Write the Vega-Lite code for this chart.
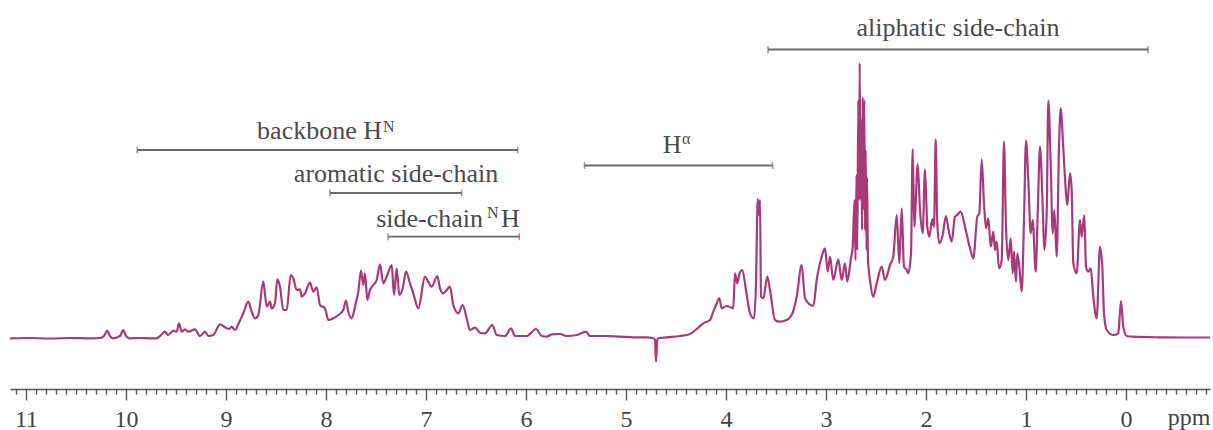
{
  "$schema": "https://vega.github.io/schema/vega-lite/v6.json",
  "autosize": "none",
  "width": 1200,
  "height": 389,
  "padding": {"left": 10, "top": 0, "right": 3, "bottom": 41},
  "background": "white",
  "config": {"view": {"stroke": null}, "font": "Liberation Serif"},
  "datasets": {
    "spectrum": [
      {"ppm":11.16,"intensity":-0.3},{"ppm":10.96,"intensity":0},{"ppm":10.76,"intensity":-0.5},{"ppm":10.56,"intensity":0},{"ppm":10.36,"intensity":-0.3},{"ppm":10.26,"intensity":0},{"ppm":10.22,"intensity":2},{"ppm":10.187,"intensity":7.3},{"ppm":10.16,"intensity":2},{"ppm":10.13,"intensity":-0.3},{"ppm":10.06,"intensity":2},{"ppm":10.027,"intensity":8},{"ppm":10.0,"intensity":2},{"ppm":9.96,"intensity":-0.3},{"ppm":9.86,"intensity":0},{"ppm":9.76,"intensity":-0.3},{"ppm":9.693,"intensity":-0.3},{"ppm":9.66,"intensity":2},{"ppm":9.61,"intensity":6.3},{"ppm":9.58,"intensity":3},{"ppm":9.527,"intensity":7.3},{"ppm":9.493,"intensity":6.3},{"ppm":9.47,"intensity":14.7},{"ppm":9.443,"intensity":6.3},{"ppm":9.41,"intensity":8.7},{"ppm":9.377,"intensity":6.3},{"ppm":9.31,"intensity":8.7},{"ppm":9.26,"intensity":2},{"ppm":9.21,"intensity":6.3},{"ppm":9.177,"intensity":2},{"ppm":9.127,"intensity":3},{"ppm":9.06,"intensity":13.7},{"ppm":9.01,"intensity":10.7},{"ppm":8.97,"intensity":9},{"ppm":8.943,"intensity":11.3},{"ppm":8.91,"intensity":8},{"ppm":8.87,"intensity":15.3},{"ppm":8.827,"intensity":24.7},{"ppm":8.777,"intensity":36.3},{"ppm":8.743,"intensity":26.3},{"ppm":8.71,"intensity":19.7},{"ppm":8.677,"intensity":23},{"ppm":8.627,"intensity":56.3},{"ppm":8.593,"intensity":31.3},{"ppm":8.56,"intensity":36.3},{"ppm":8.543,"intensity":29.7},{"ppm":8.51,"intensity":34.7},{"ppm":8.487,"intensity":58.7},{"ppm":8.46,"intensity":51.3},{"ppm":8.427,"intensity":28},{"ppm":8.393,"intensity":28},{"ppm":8.353,"intensity":63},{"ppm":8.327,"intensity":59.7},{"ppm":8.293,"intensity":48},{"ppm":8.26,"intensity":48.7},{"ppm":8.243,"intensity":41.3},{"ppm":8.21,"intensity":44.7},{"ppm":8.16,"intensity":55.3},{"ppm":8.127,"intensity":46.3},{"ppm":8.093,"intensity":50.7},{"ppm":8.06,"intensity":33},{"ppm":8.01,"intensity":29.7},{"ppm":7.977,"intensity":18},{"ppm":7.927,"intensity":19.7},{"ppm":7.877,"intensity":23},{"ppm":7.827,"intensity":28},{"ppm":7.8,"intensity":37.3},{"ppm":7.777,"intensity":26.3},{"ppm":7.743,"intensity":19.7},{"ppm":7.71,"intensity":31.3},{"ppm":7.677,"intensity":46.3},{"ppm":7.65,"intensity":67.3},{"ppm":7.627,"intensity":53},{"ppm":7.61,"intensity":64.7},{"ppm":7.587,"intensity":38},{"ppm":7.56,"intensity":48},{"ppm":7.527,"intensity":53},{"ppm":7.493,"intensity":58},{"ppm":7.46,"intensity":73.7},{"ppm":7.427,"intensity":54.7},{"ppm":7.393,"intensity":61.3},{"ppm":7.343,"intensity":73},{"ppm":7.32,"intensity":43},{"ppm":7.293,"intensity":69.7},{"ppm":7.267,"intensity":43},{"ppm":7.233,"intensity":49.7},{"ppm":7.2,"intensity":66.3},{"ppm":7.16,"intensity":54.7},{"ppm":7.127,"intensity":44.7},{"ppm":7.077,"intensity":29.7},{"ppm":7.01,"intensity":61.3},{"ppm":6.977,"intensity":56.3},{"ppm":6.943,"intensity":51.3},{"ppm":6.887,"intensity":62},{"ppm":6.86,"intensity":49.7},{"ppm":6.827,"intensity":44.7},{"ppm":6.793,"intensity":48},{"ppm":6.76,"intensity":51.3},{"ppm":6.727,"intensity":33},{"ppm":6.677,"intensity":24.7},{"ppm":6.633,"intensity":33},{"ppm":6.593,"intensity":19.7},{"ppm":6.56,"intensity":8},{"ppm":6.51,"intensity":10.3},{"ppm":6.46,"intensity":5.3},{"ppm":6.41,"intensity":4.7},{"ppm":6.337,"intensity":13},{"ppm":6.293,"intensity":3},{"ppm":6.21,"intensity":2},{"ppm":6.15,"intensity":9.7},{"ppm":6.11,"intensity":2},{"ppm":5.993,"intensity":2},{"ppm":5.9,"intensity":9},{"ppm":5.843,"intensity":2},{"ppm":5.793,"intensity":1.3},{"ppm":5.743,"intensity":3.7},{"ppm":5.66,"intensity":4},{"ppm":5.593,"intensity":2},{"ppm":5.493,"intensity":3},{"ppm":5.4,"intensity":6.3},{"ppm":5.36,"intensity":2},{"ppm":5.193,"intensity":2},{"ppm":5.06,"intensity":1.3},{"ppm":4.927,"intensity":0.7},{"ppm":4.793,"intensity":0.7},{"ppm":4.727,"intensity":-0.3},{"ppm":4.71,"intensity":-2},{"ppm":4.70,"intensity":-23.7},{"ppm":4.687,"intensity":-2},{"ppm":4.677,"intensity":-0.3},{"ppm":4.593,"intensity":0.7},{"ppm":4.46,"intensity":2},{"ppm":4.36,"intensity":4},{"ppm":4.293,"intensity":9},{"ppm":4.227,"intensity":14.7},{"ppm":4.16,"intensity":18},{"ppm":4.127,"intensity":26.3},{"ppm":4.1,"intensity":33},{"ppm":4.067,"intensity":39.7},{"ppm":4.043,"intensity":29.7},{"ppm":3.993,"intensity":32},{"ppm":3.927,"intensity":29.7},{"ppm":3.91,"intensity":64.7},{"ppm":3.887,"intensity":54.7},{"ppm":3.867,"intensity":64},{"ppm":3.837,"intensity":68},{"ppm":3.8,"intensity":48},{"ppm":3.76,"intensity":24.7},{"ppm":3.72,"intensity":19.7},{"ppm":3.7,"intensity":54.7},{"ppm":3.683,"intensity":139},{"ppm":3.67,"intensity":123},{"ppm":3.66,"intensity":138},{"ppm":3.65,"intensity":41.3},{"ppm":3.627,"intensity":39.7},{"ppm":3.587,"intensity":61.3},{"ppm":3.56,"intensity":48},{"ppm":3.51,"intensity":18},{"ppm":3.46,"intensity":16.3},{"ppm":3.393,"intensity":18},{"ppm":3.343,"intensity":23},{"ppm":3.293,"intensity":41.3},{"ppm":3.243,"intensity":73},{"ppm":3.21,"intensity":39.7},{"ppm":3.127,"intensity":32},{"ppm":3.093,"intensity":58},{"ppm":3.043,"intensity":81.3},{"ppm":3.01,"intensity":89.7},{"ppm":2.983,"intensity":66.3},{"ppm":2.96,"intensity":81.3},{"ppm":2.927,"intensity":58},{"ppm":2.877,"intensity":78.7},{"ppm":2.843,"intensity":58},{"ppm":2.81,"intensity":74.7},{"ppm":2.787,"intensity":56.3},{"ppm":2.753,"intensity":78},{"ppm":2.733,"intensity":91.3},{"ppm":2.715,"intensity":138},{"ppm":2.705,"intensity":78},{"ppm":2.695,"intensity":163},{"ppm":2.687,"intensity":88},{"ppm":2.677,"intensity":238},{"ppm":2.67,"intensity":138},{"ppm":2.663,"intensity":275},{"ppm":2.655,"intensity":138},{"ppm":2.647,"intensity":218},{"ppm":2.64,"intensity":108},{"ppm":2.633,"intensity":241},{"ppm":2.625,"intensity":128},{"ppm":2.617,"intensity":238},{"ppm":2.61,"intensity":108},{"ppm":2.603,"intensity":188},{"ppm":2.595,"intensity":88},{"ppm":2.59,"intensity":161},{"ppm":2.58,"intensity":78},{"ppm":2.56,"intensity":58},{"ppm":2.527,"intensity":41.3},{"ppm":2.493,"intensity":54.7},{"ppm":2.443,"intensity":71.3},{"ppm":2.41,"intensity":58},{"ppm":2.36,"intensity":73},{"ppm":2.327,"intensity":81.3},{"ppm":2.293,"intensity":123},{"ppm":2.267,"intensity":74.7},{"ppm":2.243,"intensity":129.7},{"ppm":2.22,"intensity":71.3},{"ppm":2.193,"intensity":68},{"ppm":2.177,"intensity":64.7},{"ppm":2.15,"intensity":84.7},{"ppm":2.133,"intensity":188.7},{"ppm":2.117,"intensity":111.3},{"ppm":2.083,"intensity":174},{"ppm":2.06,"intensity":128},{"ppm":2.033,"intensity":104.7},{"ppm":2.01,"intensity":168.7},{"ppm":1.987,"intensity":111.3},{"ppm":1.967,"intensity":101.3},{"ppm":1.937,"intensity":118.7},{"ppm":1.92,"intensity":111.3},{"ppm":1.903,"intensity":198.7},{"ppm":1.887,"intensity":114.7},{"ppm":1.867,"intensity":94.7},{"ppm":1.833,"intensity":103},{"ppm":1.8,"intensity":122},{"ppm":1.777,"intensity":109.7},{"ppm":1.743,"intensity":96.3},{"ppm":1.71,"intensity":121.3},{"ppm":1.687,"intensity":123},{"ppm":1.653,"intensity":126.3},{"ppm":1.61,"intensity":111.3},{"ppm":1.56,"intensity":89.7},{"ppm":1.527,"intensity":79.7},{"ppm":1.487,"intensity":121.3},{"ppm":1.467,"intensity":124.7},{"ppm":1.443,"intensity":178.7},{"ppm":1.42,"intensity":134.7},{"ppm":1.4,"intensity":109.7},{"ppm":1.377,"intensity":119.7},{"ppm":1.353,"intensity":91.3},{"ppm":1.327,"intensity":106.3},{"ppm":1.31,"intensity":88},{"ppm":1.293,"intensity":96.3},{"ppm":1.27,"intensity":69.7},{"ppm":1.243,"intensity":78},{"ppm":1.22,"intensity":196.3},{"ppm":1.2,"intensity":111.3},{"ppm":1.177,"intensity":78},{"ppm":1.153,"intensity":99.7},{"ppm":1.133,"intensity":64.7},{"ppm":1.12,"intensity":86.3},{"ppm":1.1,"intensity":56.3},{"ppm":1.087,"intensity":84.7},{"ppm":1.067,"intensity":71.3},{"ppm":1.043,"intensity":46.3},{"ppm":1.02,"intensity":118},{"ppm":1.0,"intensity":197.3},{"ppm":0.977,"intensity":158},{"ppm":0.953,"intensity":104.7},{"ppm":0.933,"intensity":118},{"ppm":0.903,"intensity":66.3},{"ppm":0.883,"intensity":124.7},{"ppm":0.86,"intensity":191.3},{"ppm":0.833,"intensity":131.3},{"ppm":0.817,"intensity":88},{"ppm":0.793,"intensity":124.7},{"ppm":0.777,"intensity":237.3},{"ppm":0.753,"intensity":174.7},{"ppm":0.733,"intensity":104.7},{"ppm":0.717,"intensity":128},{"ppm":0.693,"intensity":81.3},{"ppm":0.67,"intensity":191.3},{"ppm":0.653,"intensity":229.7},{"ppm":0.627,"intensity":189.7},{"ppm":0.6,"intensity":144.7},{"ppm":0.587,"intensity":133},{"ppm":0.56,"intensity":164.7},{"ppm":0.543,"intensity":148},{"ppm":0.527,"intensity":74.7},{"ppm":0.493,"intensity":64.7},{"ppm":0.46,"intensity":118},{"ppm":0.443,"intensity":101.3},{"ppm":0.417,"intensity":123},{"ppm":0.4,"intensity":71.3},{"ppm":0.377,"intensity":66.3},{"ppm":0.353,"intensity":69.7},{"ppm":0.327,"intensity":41.3},{"ppm":0.293,"intensity":19.7},{"ppm":0.26,"intensity":91.3},{"ppm":0.237,"intensity":71.3},{"ppm":0.22,"intensity":24.7},{"ppm":0.193,"intensity":8},{"ppm":0.127,"intensity":3},{"ppm":0.077,"intensity":4.7},{"ppm":0.05,"intensity":37},{"ppm":0.027,"intensity":11.3},{"ppm":-0.007,"intensity":2},{"ppm":-0.073,"intensity":1.3},{"ppm":-0.34,"intensity":0.7},{"ppm":-0.59,"intensity":0.5},{"ppm":-0.84,"intensity":0.5}
    ],
    "brackets": [
      {"region":"backbone HN","from":9.887,"to":6.083,"level":188},
      {"region":"aromatic side-chain","from":7.96,"to":6.643,"level":145},
      {"region":"side-chain NH","from":7.38,"to":6.067,"level":101.3},
      {"region":"H alpha","from":5.415,"to":3.534,"level":172.5},
      {"region":"aliphatic side-chain","from":3.58,"to":-0.22,"level":288.5}
    ],
    "labelsCenter": [
      {"label":"aromatic side-chain","ppm":7.30,"level":156.5},
      {"label":"aliphatic side-chain","ppm":1.68,"level":302}
    ],
    "labelsRight": [
      {"label":"backbone H","ppm":7.44,"level":199.5},
      {"label":"side-chain","ppm":6.43,"level":111},
      {"label":"H","ppm":4.445,"level":185.5}
    ],
    "labelsLeft": [
      {"label":"H","ppm":6.25,"level":111}
    ],
    "labelsSup": [
      {"label":"N","ppm":7.43,"level":206.5},
      {"label":"N","ppm":6.39,"level":120.5},
      {"label":"α","ppm":4.44,"level":194.5}
    ]
  },
  "layer": [
    {
      "data": {"name": "spectrum"},
      "mark": {"type": "line", "color": "#a83a7c", "strokeWidth": 2.2, "interpolate": "monotone", "clip": false},
      "encoding": {
        "x": {
          "field": "ppm", "type": "quantitative",
          "scale": {"domain": [11.16, -0.84], "nice": false, "zero": false},
          "axis": {
            "values": [11.1,11,10.9,10.8,10.7,10.6,10.5,10.4,10.3,10.2,10.1,10,9.9,9.8,9.7,9.6,9.5,9.4,9.3,9.2,9.1,9,8.9,8.8,8.7,8.6,8.5,8.4,8.3,8.2,8.1,8,7.9,7.8,7.7,7.6,7.5,7.4,7.3,7.2,7.1,7,6.9,6.8,6.7,6.6,6.5,6.4,6.3,6.2,6.1,6,5.9,5.8,5.7,5.6,5.5,5.4,5.3,5.2,5.1,5,4.9,4.8,4.7,4.6,4.5,4.4,4.3,4.2,4.1,4,3.9,3.8,3.7,3.6,3.5,3.4,3.3,3.2,3.1,3,2.9,2.8,2.7,2.6,2.5,2.4,2.3,2.2,2.1,2,1.9,1.8,1.7,1.6,1.5,1.4,1.3,1.2,1.1,1,0.9,0.8,0.7,0.6,0.5,0.4,0.3,0.2,0.1,0,-0.1,-0.2,-0.3,-0.4,-0.5,-0.6,-0.7,-0.8],
            "tickCount": 500,
            "labelExpr": "abs(datum.value - round(datum.value)) < 0.001 ? format(datum.value, 'd') : ''",
            "labelOverlap": false,
            "labelFlush": false,
            "labelBound": false,
            "labelFont": "Liberation Serif",
            "labelFontSize": 24,
            "labelColor": "#444444",
            "labelBaseline": "alphabetic",
            "labelPadding": 26,
            "tickSize": {"condition": {"test": "abs(datum.value - round(datum.value)) < 0.001", "value": 11}, "value": 5},
            "tickColor": "#555555",
            "tickWidth": 1.4,
            "domainColor": "#555555",
            "domainWidth": 1.5,
            "grid": false,
            "title": "ppm",
            "titleFont": "Liberation Serif",
            "titleFontSize": 24,
            "titleFontWeight": "normal",
            "titleColor": "#444444",
            "titleAnchor": null,
            "titleAlign": "right",
            "titleBaseline": "alphabetic",
            "titleX": 1200,
            "titleY": 35
          }
        },
        "y": {
          "field": "intensity", "type": "quantitative",
          "scale": {"domain": [-51, 338], "nice": false, "zero": false},
          "axis": null
        }
      }
    },
    {
      "data": {"name": "brackets"},
      "mark": {"type": "rule", "color": "#6a6a6a", "strokeWidth": 1.8},
      "encoding": {
        "x": {"field": "from", "type": "quantitative"},
        "x2": {"field": "to"},
        "y": {"field": "level", "type": "quantitative"}
      }
    },
    {
      "data": {"name": "brackets"},
      "transform": [{"fold": ["from", "to"], "as": ["end", "pos"]}],
      "mark": {"type": "tick", "orient": "vertical", "color": "#6a6a6a", "size": 7, "thickness": 1.5},
      "encoding": {
        "x": {"field": "pos", "type": "quantitative"},
        "y": {"field": "level", "type": "quantitative"}
      }
    },
    {
      "data": {"name": "labelsCenter"},
      "mark": {"type": "text", "font": "Liberation Serif", "fontSize": 26, "color": "#4a4a4a", "align": "center", "baseline": "alphabetic"},
      "encoding": {
        "x": {"field": "ppm", "type": "quantitative"},
        "y": {"field": "level", "type": "quantitative"},
        "text": {"field": "label"}
      }
    },
    {
      "data": {"name": "labelsRight"},
      "mark": {"type": "text", "font": "Liberation Serif", "fontSize": 26, "color": "#4a4a4a", "align": "right", "baseline": "alphabetic"},
      "encoding": {
        "x": {"field": "ppm", "type": "quantitative"},
        "y": {"field": "level", "type": "quantitative"},
        "text": {"field": "label"}
      }
    },
    {
      "data": {"name": "labelsLeft"},
      "mark": {"type": "text", "font": "Liberation Serif", "fontSize": 26, "color": "#4a4a4a", "align": "left", "baseline": "alphabetic"},
      "encoding": {
        "x": {"field": "ppm", "type": "quantitative"},
        "y": {"field": "level", "type": "quantitative"},
        "text": {"field": "label"}
      }
    },
    {
      "data": {"name": "labelsSup"},
      "mark": {"type": "text", "font": "Liberation Serif", "fontSize": 16, "color": "#4a4a4a", "align": "left", "baseline": "alphabetic"},
      "encoding": {
        "x": {"field": "ppm", "type": "quantitative"},
        "y": {"field": "level", "type": "quantitative"},
        "text": {"field": "label"}
      }
    }
  ]
}
